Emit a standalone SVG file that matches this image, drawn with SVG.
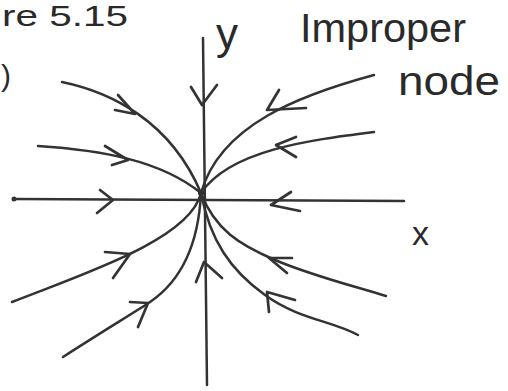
<svg xmlns="http://www.w3.org/2000/svg" width="508" height="391" viewBox="0 0 508 391">
<style>
.c{fill:none;stroke:#333;stroke-width:2.5;stroke-linecap:round;stroke-linejoin:round}
.a{fill:none;stroke:#333;stroke-width:2.7;stroke-linecap:round;stroke-linejoin:round}
.t{font-family:"Liberation Sans",Arial,sans-serif;fill:#2a2a2a}
</style>
<rect width="508" height="391" fill="#fff"/>
<g id="labels">
<text class="t" x="2" y="26" font-size="30" textLength="126" lengthAdjust="spacingAndGlyphs">re 5.15</text>
<text class="t" x="1" y="86" font-size="30">)</text>
<text class="t" x="216" y="49" font-size="44">y</text>
<text class="t" x="300" y="42" font-size="40" textLength="166" lengthAdjust="spacingAndGlyphs">Improper</text>
<text class="t" x="398" y="95" font-size="40" textLength="102" lengthAdjust="spacingAndGlyphs">node</text>
<text class="t" x="412" y="245" font-size="34">x</text>
</g>
<g id="axes">
<path class="c" d="M14,199 L404,201"/>
<circle cx="14" cy="199" r="2.5" fill="#333"/>
<path class="c" d="M203,38 L207,385"/>
<circle cx="201" cy="193" r="3" fill="#222"/>
</g>
<g id="connectors">
<path class="c" d="M62,82 C110,92 170,120 201,193"/>
<path class="c" d="M38,146 C100,150 160,160 201,193"/>
<path class="c" d="M374,75 C300,95 220,125 201,193"/>
<path class="c" d="M374,132 C310,140 230,150 201,193"/>
<path class="c" d="M12,302 C80,275 190,240 201,193"/>
<path class="c" d="M63,357 C100,333 135,312 150,302 C175,285 198,255 201,193"/>
<path class="c" d="M201,193 C215,230 240,245 275,260 S350,285 386,296"/>
<path class="c" d="M201,193 C210,240 230,270 265,295 S330,320 358,335"/>
</g>
<g id="arrows">
<path class="a" d="M118,95 L135,114 L115,110"/>
<path class="a" d="M105,146 L128,160 L112,165"/>
<path class="a" d="M100,190 L113,200 L97,213"/>
<path class="a" d="M291,192 L271,205 L300,211"/>
<path class="a" d="M279,90 L267,110 L306,108"/>
<path class="a" d="M296,137 L276,145 L296,157"/>
<path class="a" d="M105,252 L130,254 L113,278"/>
<path class="a" d="M130,302 L148,303 L138,327"/>
<path class="a" d="M191,87 L202,105 L217,85"/>
<path class="a" d="M196,282 L204,262 L222,278"/>
<path class="a" d="M292,258 L269,258 L287,273"/>
<path class="a" d="M295,300 L267,292 L269,312"/>
</g>
</svg>
